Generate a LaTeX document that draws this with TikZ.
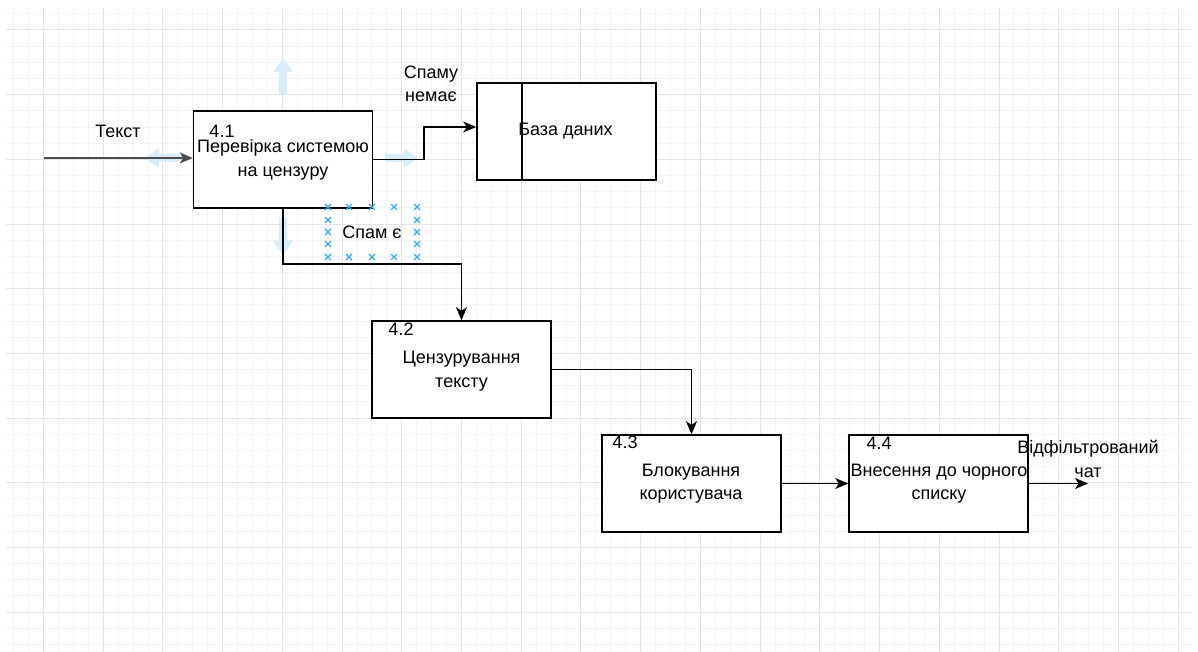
\documentclass[tikz,border=0pt]{standalone}
\usepackage{fontspec}
\setmainfont{Liberation Sans}
\usetikzlibrary{arrows.meta}
\definecolor{gridminor}{HTML}{F3F3F3}
\definecolor{gridmajor}{HTML}{E4E4E4}
\definecolor{hoverblue}{HTML}{D3ECFA}
\definecolor{xblue}{HTML}{3AA8E4}
\tikzset{
  box/.style={draw=black, line width=1.5pt, fill=white, minimum width=179pt, minimum height=97pt, inner sep=0pt},
  txt/.style={font=\fontsize{18}{23.5}\selectfont, align=center, inner sep=0pt, text=black},
  conn/.style={draw=black, line width=1.8pt, -{Stealth[length=13pt,width=11pt,inset=3.5pt]}},
  hover/.style={fill=hoverblue, fill opacity=0.9},
  xmark/.style={draw=xblue, line width=1.2pt}
}
\begin{document}
\begin{tikzpicture}[x=1pt,y=-1pt]
\fill[white] (0,0) rectangle (1198,652);
\useasboundingbox (0,0) rectangle (1198,652);
% grid
\begin{scope}
\clip (6,8) rectangle (1192,652);
\foreach \k in {-2,...,77} \draw[gridminor, line width=1pt] ({43.5+14.93*\k},8) -- ({43.5+14.93*\k},652);
\foreach \k in {-1,...,39} \draw[gridminor, line width=1pt] (6,{30+16.17*\k}) -- (1192,{30+16.17*\k});
\foreach \k in {0,...,19} \draw[gridmajor, line width=1pt] ({43.5+59.72*\k},8) -- ({43.5+59.72*\k},652);
\foreach \k in {0,...,9} \draw[gridmajor, line width=1pt] (6,{30+64.68*\k}) -- (1192,{30+64.68*\k});
\end{scope}
% nodes
\node[box] (b41) at (283,159.5) {};
\node[box] (db) at (566.5,131.5) {};
\draw[line width=1.5pt] (522,83) -- (522,180);
\node[box] (b42) at (461.5,369.5) {};
\node[box] (b43) at (691.5,483.5) {};
\node[box] (b44) at (938.5,483.5) {};
% texts
\node[txt] (t41) at (283,160) {Перевірка системою\\на цензуру};
\node[txt] (n41) at (222,131) {4.1};
\node[txt] (tdb) at (565.5,131) {База даних};
\node[txt] (t42) at (461.5,371) {Цензурування\\тексту};
\node[txt] (n42) at (401,329) {4.2};
\node[txt] (t43) at (691,483.5) {Блокування\\користувача};
\node[txt] (n43) at (625,442) {4.3};
\node[txt] (t44) at (939,483.5) {Внесення до чорного\\списку};
\node[txt] (n44) at (879,443) {4.4};
\node[txt] (lin) at (118,131) {Текст};
\node[txt] (lno) at (431,84) {Спаму\\немає};
\node[txt] (lyes) at (372,232) {Спам є};
\node[txt] (lout) at (1088,459) {Відфільтрований\\чат};
% hover arrows
\fill[hover] (279,95) -- (279,72) -- (273,72) -- (283,58) -- (293,72) -- (287,72) -- (287,95) -- cycle;
\fill[hover] (279,218) -- (279,241) -- (273,241) -- (283,255) -- (293,241) -- (287,241) -- (287,218) -- cycle;
\fill[hover] (180,154) -- (159,154) -- (159,148) -- (145,158) -- (159,168) -- (159,162) -- (180,162) -- cycle;
\fill[hover] (385,154) -- (404,154) -- (404,148) -- (418,158) -- (404,168) -- (404,162) -- (385,162) -- cycle;
% connectors
\coordinate (cin) at (44,158);
\coordinate (j1) at (424,127);
\coordinate (j2) at (461.5,264);
\coordinate (cout) at (1088,483.5);
\draw[conn, draw=black!70] (cin) -- (cin -| b41.west);
\draw[conn] (b41.east) -| (j1) -- (j1 -| db.west);
\draw[conn] (b41.south) |- (j2) -- (b42.north);
\draw[conn] (b42.east) -| (b43.north);
\draw[conn] (b43.east) -- (b44.west);
\draw[conn] (b44.east) -- (cout);
% selection marks
\foreach \p in {(328,207),(349,207),(372,207),(394,207),(417,207),
                (328,257),(349,257),(372,257),(394,257),(417,257),
                (328,220),(328,232),(328,244),(417,220),(417,232),(417,244)}
  \draw[xmark] \p ++(-3,-3) -- ++(6,6) \p ++(-3,3) -- ++(6,-6);
\end{tikzpicture}
\end{document}
